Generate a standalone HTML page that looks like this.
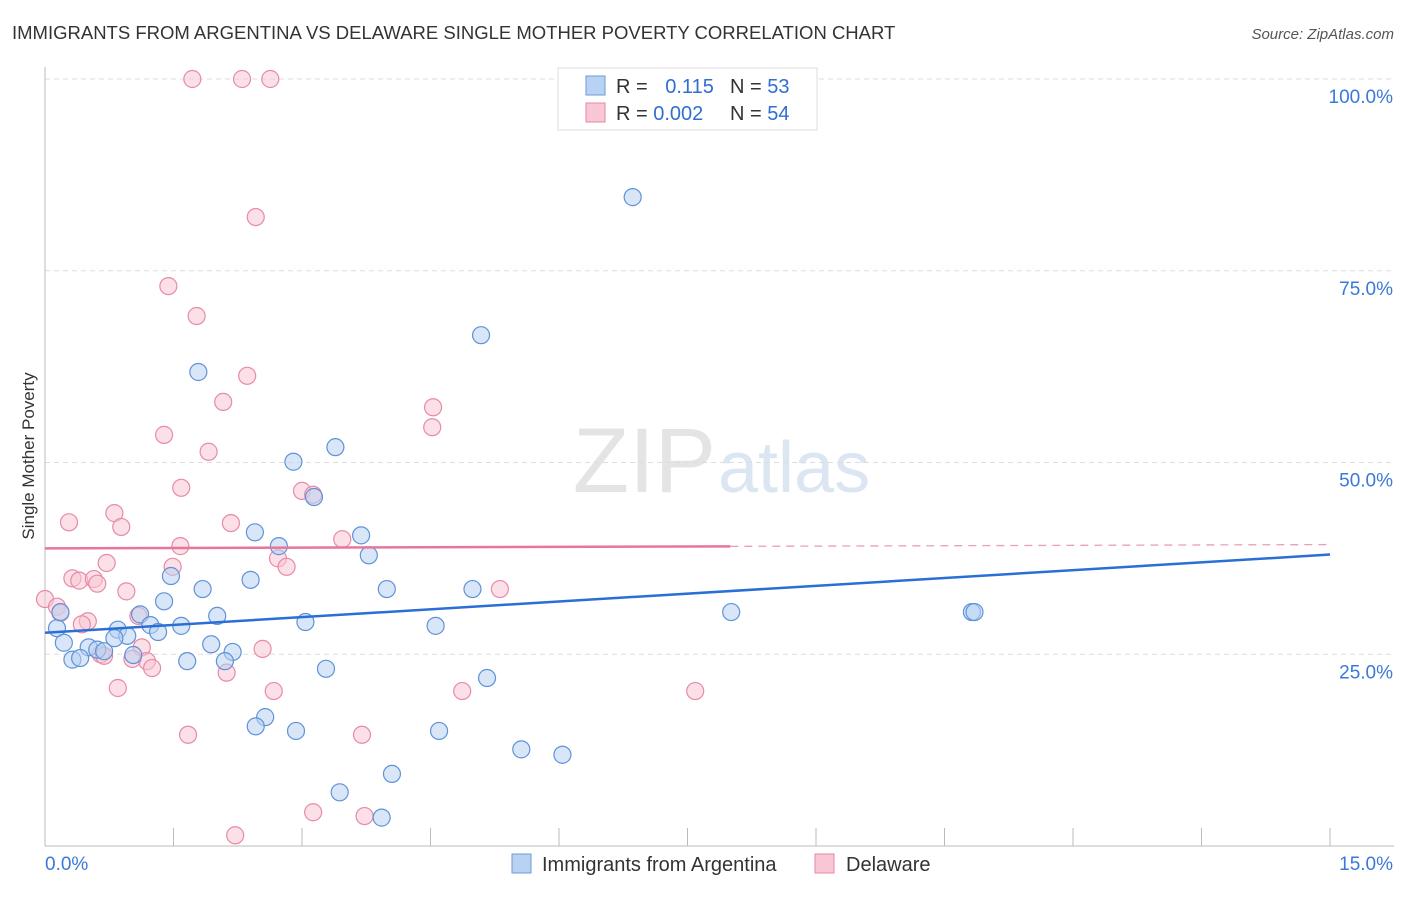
<!DOCTYPE html>
<html><head><meta charset="utf-8"><style>
body{margin:0;background:#fff;font-family:"Liberation Sans",sans-serif}
svg text{font-family:"Liberation Sans",sans-serif}
</style></head><body>
<svg id="c" width="1406" height="892" viewBox="0 0 1406 892">
<text x="12" y="39" font-size="18.5" fill="#333">IMMIGRANTS FROM ARGENTINA VS DELAWARE SINGLE MOTHER POVERTY CORRELATION CHART</text>
<text x="1394" y="39" font-size="15" fill="#555" font-style="italic" text-anchor="end">Source: ZipAtlas.com</text>
<text x="34" y="456" font-size="17" fill="#333" transform="rotate(-90 34 456)" text-anchor="middle">Single Mother Poverty</text>
<text x="716" y="492" font-size="92" fill="#e4e4e4" text-anchor="end" font-family="Liberation Serif">ZIP</text>
<text x="718" y="492" font-size="72" fill="#dce6f3">atlas</text>
<g id="grid"></g><g id="axes"></g><g id="pts"></g><g id="lines"></g>
<g>
<rect x="558" y="68" width="259" height="62" fill="#fff" stroke="#ddd"/>
<rect x="586" y="76" width="19" height="19" fill="#b8d2f3" stroke="#6f9ad6"/>
<rect x="586" y="103" width="19" height="19" fill="#f8c6d4" stroke="#e58aa5"/>
<text x="616" y="93" font-size="20" fill="#333">R = <tspan fill="#2f6fd0" dx="12">0.115</tspan></text>
<text x="730" y="93" font-size="20" fill="#333">N = <tspan fill="#2f6fd0">53</tspan></text>
<text x="616" y="120" font-size="20" fill="#333">R = <tspan fill="#2f6fd0">0.002</tspan></text>
<text x="730" y="120" font-size="20" fill="#333">N = <tspan fill="#2f6fd0">54</tspan></text>
</g>
<g>
<rect x="512" y="854" width="19" height="19" fill="#b8d2f3" stroke="#6f9ad6"/>
<text x="542" y="871" font-size="20" fill="#333">Immigrants from Argentina</text>
<rect x="815" y="854" width="19" height="19" fill="#f8c6d4" stroke="#e58aa5"/>
<text x="846" y="871" font-size="20" fill="#333">Delaware</text>
</g>
</svg>
<script>
const yTicks=[25,50,75,100];
const yTickLabels=["25.0%","50.0%","75.0%","100.0%"];
const xTicks=[0,1.5,3,4.5,6,7.5,9,10.5,12,13.5,15];
const blueX=[6.86,5.09,1.79,3.39,2.90,3.14,2.45,3.69,2.73,3.78,1.47,2.40,1.84,3.99,4.99,1.39,1.11,2.01,8.01,10.82,10.85,3.04,4.56,1.59,1.23,0.85,1.32,0.96,0.14,0.18,0.22,0.51,0.61,0.69,0.81,1.94,2.19,1.03,0.32,0.41,1.66,2.10,3.28,5.16,2.57,2.46,2.93,4.60,5.56,6.04,4.05,3.44,3.93];
const blueY=[84.6,66.6,61.8,52.0,50.1,45.5,40.9,40.5,39.1,37.9,35.2,34.7,33.5,33.5,33.5,31.9,30.2,30.0,30.5,30.5,30.5,29.2,28.7,28.7,28.8,28.2,27.9,27.4,28.4,30.5,26.5,25.9,25.6,25.4,27.1,26.3,25.3,24.9,24.3,24.5,24.1,24.1,23.1,21.9,16.8,15.6,15.0,15.0,12.6,11.9,9.4,7.0,3.7];
const pinkX=[1.72,2.30,2.63,2.46,1.44,1.77,2.36,2.08,4.53,4.52,1.39,1.91,1.59,3.00,3.13,0.81,0.28,0.89,2.17,3.47,1.58,2.72,2.82,0.72,1.49,0.32,0.40,0.57,0.61,0.95,5.31,0.00,0.14,0.18,1.09,0.50,0.43,1.13,2.54,0.65,0.69,1.19,1.25,1.02,2.12,0.85,2.67,4.87,7.59,1.67,3.70,3.13,3.73,2.22];
const pinkY=[100,100,100,82.0,73.0,69.1,61.3,57.9,57.2,54.6,53.6,51.4,46.7,46.3,45.8,43.4,42.2,41.6,42.1,40.0,39.1,37.5,36.4,36.9,36.4,34.9,34.6,34.8,34.2,33.2,33.5,32.2,31.2,30.4,30.0,29.3,28.9,25.9,25.7,25.0,24.8,24.1,23.2,24.4,22.6,20.6,20.2,20.2,20.2,14.5,14.5,4.4,3.9,1.4];
const blueFit=[27.8,38.0];
const pinkFit=[38.8,39.3];
const NS="http://www.w3.org/2000/svg";
const X=v=>45+v/15*1285, Y=v=>846-v/100*767;
function mk(t,a,p){const e=document.createElementNS(NS,t);for(const k in a)e.setAttribute(k,a[k]);document.getElementById(p).appendChild(e);return e;}
yTicks.forEach((t,i)=>{
 const g=mk('line',{x1:45,x2:1394,y1:Y(t),y2:Y(t),stroke:'#ddd','stroke-dasharray':'5,4'},'grid');
 
 
 const l=mk('text',{x:1393,y:Y(t)+24,'font-size':19,fill:'#3b78d8','text-anchor':'end'},'axes');l.textContent=yTickLabels[i];
 
 
});
mk('line',{x1:45,x2:45,y1:67,y2:846,stroke:'#bbb'},'axes');
mk('line',{x1:45,x2:1394,y1:846,y2:846,stroke:'#bbb'},'axes');
xTicks.forEach(t=>{const e=mk('line',{x1:X(t),x2:X(t),y1:828,y2:846,stroke:'#bbb'},'axes');
 
 });
const x0=mk('text',{x:45,y:870,'font-size':19,fill:'#3b78d8'},'axes');x0.textContent='0.0%';

const x1=mk('text',{x:1393,y:870,'font-size':19,fill:'#3b78d8','text-anchor':'end'},'axes');x1.textContent='15.0%';

function pts(xs,ys,f,s,n){xs.forEach((x,i)=>{const c=mk('circle',{cx:X(x),cy:Y(ys[i]),r:8.5,fill:f,'fill-opacity':0.55,stroke:s,'stroke-width':1.2},'pts');
 
 });}
pts(pinkX,pinkY,'#f8c6d4','#e88aa8','point-delaware');
pts(blueX,blueY,'#b8d2f3','#5f93d8','point-argentina');
const bl=mk('line',{x1:X(0),y1:Y(blueFit[0]),x2:X(15),y2:Y(blueFit[1]),stroke:'#2a6fd6','stroke-width':2.5},'lines');

const pm=pinkFit[0]+(pinkFit[1]-pinkFit[0])*8/15;
const pl=mk('line',{x1:X(0),y1:Y(pinkFit[0]),x2:X(8),y2:Y(pm),stroke:'#e8769a','stroke-width':2.5},'lines');

const pd=mk('line',{x1:X(8),y1:Y(pm),x2:X(15),y2:Y(pinkFit[1]),stroke:'#e8a0b8','stroke-width':1.3,'stroke-dasharray':'8,6'},'lines');

</script>
</body></html>
